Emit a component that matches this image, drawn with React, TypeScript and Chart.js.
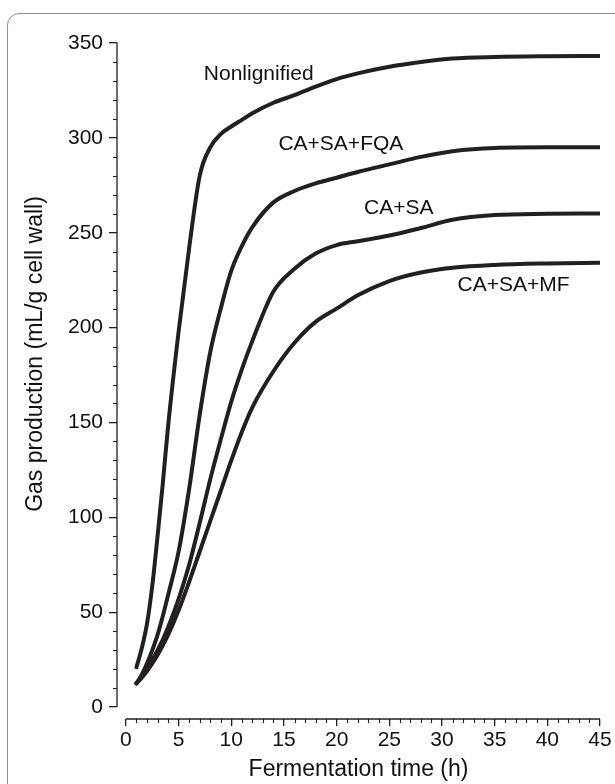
import React, { useEffect, useRef } from "react";
import { Chart, registerables } from "chart.js";

Chart.register(...registerables);

// ---- data ----
const hours = [1, 1.5, 2, 2.5, 3, 3.5, 4, 5, 6, 7, 8, 9, 10, 11, 12, 14, 16, 18, 20, 22, 25, 28, 31, 35, 40, 45];
const nonlignified = [21, 31, 44, 64, 90, 118, 148, 198, 242, 280, 295, 302, 306, 309.5, 313, 318.5, 322.5, 327, 331, 334, 337.5, 340, 341.8, 342.6, 343, 343.2];
const caSaFqa = [12.5, 17, 23, 30, 38, 48, 59, 82, 115, 154, 187, 210, 230, 243, 253, 266, 272, 276, 279, 282, 286, 290, 293, 294.7, 295, 295];
const caSa = [12.5, 16, 20.5, 25, 30, 35.5, 42, 57, 75, 97, 120, 141, 161, 178, 193, 219, 231, 239, 243.5, 245.5, 248.5, 252.5, 256.8, 259.3, 260, 260.2];
const caSaMf = [12.5, 15.5, 19, 23, 27.5, 32.5, 38, 51, 66, 82, 98, 114, 130, 145, 158, 177, 192, 203, 210, 217, 224.5, 229, 231.5, 233, 233.8, 234.2];

const seriesNames = ["Nonlignified", "CA+SA+FQA", "CA+SA", "CA+SA+MF"];
const seriesValues = [nonlignified, caSaFqa, caSa, caSaMf];

// curve label anchors (data coordinates)
const labelHours = [12.6, 20.4, 25.9, 36.8];
const labelGas = [333.4, 296.9, 262.9, 222.5];

const xTicks = [0, 5, 10, 15, 20, 25, 30, 35, 40, 45];
const yTicks = [0, 50, 100, 150, 200, 250, 300, 350];
const xMinorStep = 1;
const yMinorStep = 10;

const xTitle = "Fermentation time (h)";
const yTitle = "Gas production (mL/g cell wall)";

const INK = "#231f20";
const FONT = "'Liberation Sans', Arial, Helvetica, sans-serif";

const X_MIN = -0.85;
const X_MAX = 45;
const Y_MIN = -6.3;
const Y_MAX = 350;

const decorPlugin = {
  id: "decor",
  afterDraw(chart: any) {
    const { ctx, chartArea } = chart;
    const x = chart.scales.x;
    const y = chart.scales.y;
    ctx.save();
    ctx.strokeStyle = INK;
    ctx.lineWidth = 1.3;
    ctx.lineCap = "butt";
    // axis lines
    const ax = chartArea.left;
    const ay = chartArea.bottom;
    ctx.beginPath();
    ctx.moveTo(ax, y.getPixelForValue(yTicks[0]));
    ctx.lineTo(ax, y.getPixelForValue(yTicks[yTicks.length - 1]));
    ctx.stroke();
    ctx.beginPath();
    ctx.moveTo(x.getPixelForValue(xTicks[0]), ay);
    ctx.lineTo(x.getPixelForValue(xTicks[xTicks.length - 1]), ay);
    ctx.stroke();
    // minor ticks
    ctx.lineWidth = 1.1;
    for (let v = yTicks[0]; v <= yTicks[yTicks.length - 1]; v += yMinorStep) {
      if (v % 50 === 0) continue;
      const py = Math.round(y.getPixelForValue(v)) + 0.5;
      ctx.beginPath();
      ctx.moveTo(ax - 4, py);
      ctx.lineTo(ax, py);
      ctx.stroke();
    }
    for (let v = xTicks[0]; v <= xTicks[xTicks.length - 1]; v += xMinorStep) {
      if (v % 5 === 0) continue;
      const px = Math.round(x.getPixelForValue(v)) + 0.5;
      ctx.beginPath();
      ctx.moveTo(px, ay);
      ctx.lineTo(px, ay + 4);
      ctx.stroke();
    }
    // curve labels
    ctx.fillStyle = "#111";
    ctx.font = `21px ${FONT}`;
    ctx.textAlign = "center";
    ctx.textBaseline = "middle";
    seriesNames.forEach((name, i) => {
      ctx.fillText(name, x.getPixelForValue(labelHours[i]), y.getPixelForValue(labelGas[i]));
    });
    // y axis title
    ctx.font = `23px ${FONT}`;
    ctx.translate(36, 354);
    ctx.rotate(-Math.PI / 2);
    ctx.fillText(yTitle, 0, 0);
    ctx.restore();
  },
};

export default function App() {
  const ref = useRef<HTMLCanvasElement>(null);
  useEffect(() => {
    const canvas = ref.current;
    if (!canvas) return;
    const chart = new Chart(canvas, {
      type: "line",
      data: {
        datasets: seriesValues.map((vals, i) => ({
          label: seriesNames[i],
          data: hours.map((h, j) => ({ x: h, y: vals[j] })),
          borderColor: INK,
          borderWidth: 4,
          borderCapStyle: "round",
          borderJoinStyle: "round",
          pointRadius: 0,
          pointHoverRadius: 0,
          fill: false,
          cubicInterpolationMode: "monotone",
        })),
      },
      options: {
        responsive: false,
        animation: false,
        devicePixelRatio: 1,
        layout: { padding: { top: 43, right: 15, left: 0, bottom: 0 } },
        plugins: {
          legend: { display: false },
          tooltip: { enabled: false },
        },
        events: [],
        scales: {
          x: {
            type: "linear",
            min: X_MIN,
            max: X_MAX,
            afterBuildTicks: (s: any) => {
              s.ticks = xTicks.map((v) => ({ value: v }));
            },
            afterFit: (s: any) => {
              s.height = 65;
            },
            grid: {
              display: true,
              drawOnChartArea: false,
              drawTicks: true,
              tickLength: 7,
              color: INK,
              lineWidth: 1.3,
            },
            border: { display: false },
            ticks: {
              color: "#111",
              font: { family: FONT, size: 21 },
              padding: 2,
              maxRotation: 0,
              autoSkip: false,
              callback: (v: any) => String(v),
            },
            title: {
              display: true,
              text: xTitle,
              color: "#111",
              font: { family: FONT, size: 23 },
              padding: { top: 0, bottom: 1 },
            },
          },
          y: {
            type: "linear",
            min: Y_MIN,
            max: Y_MAX,
            afterBuildTicks: (s: any) => {
              s.ticks = yTicks.map((v) => ({ value: v }));
            },
            afterFit: (s: any) => {
              s.width = 117;
            },
            grid: {
              display: true,
              drawOnChartArea: false,
              drawTicks: true,
              tickLength: 8,
              color: INK,
              lineWidth: 1.3,
            },
            border: { display: false },
            ticks: {
              color: "#111",
              font: { family: FONT, size: 21 },
              padding: 6,
              autoSkip: false,
              callback: (v: any) => String(v),
            },
          },
        },
      },
      plugins: [decorPlugin],
    } as any);
    return () => chart.destroy();
  }, []);

  return (
    <div
      style={{
        position: "fixed",
        left: 0,
        top: 0,
        width: 615,
        height: 784,
        background: "#fff",
        overflow: "hidden",
      }}
    >
      <div
        style={{
          position: "absolute",
          left: 7,
          top: 13,
          width: 720,
          height: 900,
          border: "1px solid #8f8f8f",
          borderRadius: 12,
          boxSizing: "border-box",
        }}
      />
      <canvas
        ref={ref}
        width={615}
        height={784}
        style={{ position: "absolute", left: 0, top: 0, width: 615, height: 784 }}
      />
    </div>
  );
}
